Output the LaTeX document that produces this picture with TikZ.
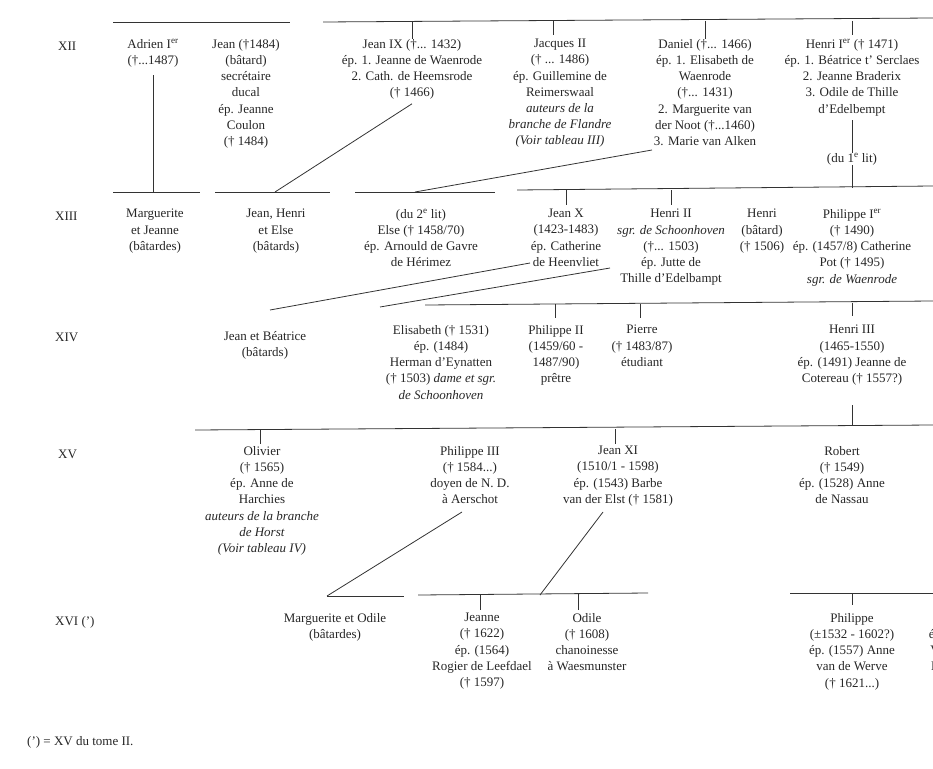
\documentclass[tikz,border=0pt]{standalone}
\usepackage{fontspec}
\setmainfont{Liberation Serif}
\begin{document}
\begin{tikzpicture}[x=1pt,y=1pt,yscale=-1,
  pers/.style={anchor=north,align=center,inner sep=0pt,font=\fontsize{13}{16.2}\selectfont,text=black!85},
  gen/.style={anchor=west,inner sep=0pt,font=\fontsize{13}{15}\selectfont,text=black!85},
  trait/.style={line width=0.8pt,black!80}]
\useasboundingbox (0,0) rectangle (933,768);
\clip (0,0) rectangle (933,768);
% generations
\node[gen] (g12) at (58,46) {XII};
\node[gen] (g13) at (55,216) {XIII};
\node[gen] (g14) at (55,337) {XIV};
\node[gen] (g15) at (58,454) {XV};
\node[gen] (g16) at (55,622) {XVI (')};
\node[gen] (note) at (27,742) {(') = XV du tome II.};
% XII
\node[pers] (adrien) at (153,39) {Adrien I\textsuperscript{er}\\(†...1487)};
\node[pers] (jean) at (246,39) {Jean (†1484)\\(bâtard)\\secrétaire\\ducal\\ép. Jeanne\\Coulon\\(† 1484)};
\node[pers] (jeanix) at (412,39) {Jean IX (†... 1432)\\ép. 1. Jeanne de Waenrode\\2. Cath. de Heemsrode\\(† 1466)};
\node[pers] (jacques) at (560,39) {Jacques II\\(† ... 1486)\\ép. Guillemine de\\Reimerswaal\\\textit{auteurs de la}\\\textit{branche de Flandre}\\\textit{(Voir tableau III)}};
\node[pers] (daniel) at (705,39) {Daniel (†... 1466)\\ép. 1. Elisabeth de\\Waenrode\\(†... 1431)\\2. Marguerite van\\der Noot (†...1460)\\3. Marie van Alken};
\node[pers] (henri1) at (852,39) {Henri I\textsuperscript{er} († 1471)\\ép. 1. Béatrice t' Serclaes\\2. Jeanne Braderix\\3. Odile de Thille\\d'Edelbempt};
\node[pers] (lit1) at (852,153) {(du 1\textsuperscript{e} lit)};
\draw[trait] (113,22) -- (290,22);
\draw[trait] (323,22) -- (933,18);
\foreach \x/\y in {412/39,553/35,705/39,852/35}
  \draw[trait] (\x,21) -- (\x,\y);
\draw[trait] (adrien.south) ++(0,8) -- (153,192);
\draw[trait] (852,120) -- (lit1.north);
\draw[trait] (lit1.south) -- (852,188);
% XIII
\draw[trait] (113,192) -- (200,192);
\draw[trait] (215,192) -- (330,192);
\draw[trait] (355,192) -- (495,192);
\draw[trait] (517,190) -- (933,186);
\draw[trait] (jeanix.south) ++(0,4) -- (275,192);
\draw[trait] (652,150) -- (415,192);
\node[pers] (marg) at (155,209) {Marguerite\\et Jeanne\\(bâtardes)};
\node[pers] (jhe) at (276,209) {Jean, Henri\\et Else\\(bâtards)};
\node[pers] (else) at (421,209) {(du 2\textsuperscript{e} lit)\\Else († 1458/70)\\ép. Arnould de Gavre\\de Hérimez};
\node[pers] (jeanx) at (566,209) {Jean X\\(1423-1483)\\ép. Catherine\\de Heenvliet};
\node[pers] (henri2) at (671,209) {Henri II\\\textit{sgr. de Schoonhoven}\\(†... 1503)\\ép. Jutte de\\Thille d'Edelbampt};
\node[pers] (henrib) at (762,209) {Henri\\(bâtard)\\(† 1506)};
\node[pers] (phil1) at (852,209) {Philippe I\textsuperscript{er}\\(† 1490)\\ép. (1457/8) Catherine\\Pot († 1495)\\\textit{sgr. de Waenrode}};
\foreach \x in {566,671} \draw[trait] (\x,190) -- (\x,205);
% XIV
\coordinate (xa) at (530,263);
\coordinate (xb) at (610,268);
\draw[trait] (xa) -- (270,310);
\draw[trait] (xb) -- (380,307);
\draw[trait] (425,305) -- (933,301);
\foreach \x in {555,640} \draw[trait] (\x,304) -- (\x,318);
\draw[trait] (852,303) -- (852,316);
\node[pers] (jb) at (265,331) {Jean et Béatrice\\(bâtards)};
\node[pers] (elis) at (441,325) {Elisabeth († 1531)\\ép. (1484)\\Herman d'Eynatten\\(† 1503) \textit{dame et sgr.}\\\textit{de Schoonhoven}};
\node[pers] (phil2) at (556,325) {Philippe II\\(1459/60 -\\1487/90)\\prêtre};
\node[pers] (pierre) at (642,325) {Pierre\\(† 1483/87)\\étudiant};
\node[pers] (henri3) at (852,325) {Henri III\\(1465-1550)\\ép. (1491) Jeanne de\\Cotereau († 1557?)};
\draw[trait] (852,405) -- (852,426);
% XV
\draw[trait] (195,430) -- (933,425);
\foreach \x in {260,615} \draw[trait] (\x,429) -- (\x,444);
\node[pers] (olivier) at (262,446) {Olivier\\(† 1565)\\ép. Anne de\\Harchies\\\textit{auteurs de la branche}\\\textit{de Horst}\\\textit{(Voir tableau IV)}};
\node[pers] (phil3) at (470,446) {Philippe III\\(† 1584...)\\doyen de N. D.\\à Aerschot};
\node[pers] (jeanxi) at (618,446) {Jean XI\\(1510/1 - 1598)\\ép. (1543) Barbe\\van der Elst († 1581)};
\node[pers] (robert) at (842,446) {Robert\\(† 1549)\\ép. (1528) Anne\\de Nassau};
% XVI
\draw[trait] (462,512) -- (327,596);
\draw[trait] (603,512) -- (540,595);
\draw[trait] (327,596) -- (404,596);
\draw[trait] (418,595) -- (648,593);
\draw[trait] (790,593) -- (933,593);
\foreach \x in {480,578} \draw[trait] (\x,594) -- (\x,610);
\draw[trait] (852,593) -- (852,605);
\node[pers] (mo) at (335,613) {Marguerite et Odile\\(bâtardes)};
\node[pers] (jeanne) at (482,613) {Jeanne\\(† 1622)\\ép. (1564)\\Rogier de Leefdael\\(† 1597)};
\node[pers] (odile) at (587,613) {Odile\\(† 1608)\\chanoinesse\\à Waesmunster};
\node[pers] (phil) at (852,613) {Philippe\\(±1532 - 1602?)\\ép. (1557) Anne\\van de Werve\\(† 1621...)};
\node[pers] (cut) at (935,613) {(\\ép\\V\\L\\(};
\end{tikzpicture}
\end{document}
